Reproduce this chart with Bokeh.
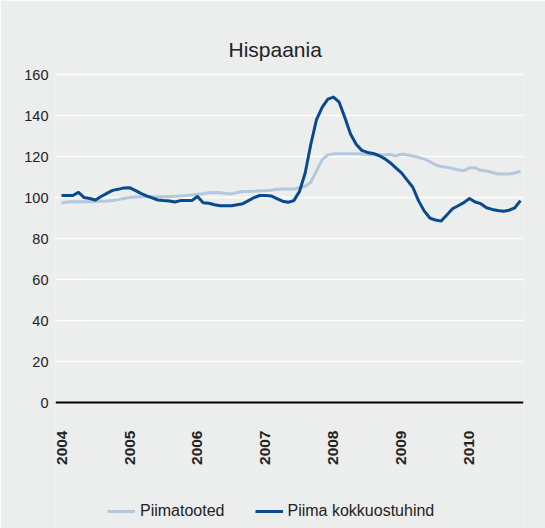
from bokeh.plotting import figure
from bokeh.models import Range1d, FixedTicker, Title, Legend
from bokeh.embed import file_html
from bokeh.resources import INLINE
from math import pi

chart_title = "Hispaania"
years = ["2004", "2005", "2006", "2007", "2008", "2009", "2010"]
year_start_index = [0, 12, 24, 36, 48, 60, 72]
y_ticks = [0, 20, 40, 60, 80, 100, 120, 140, 160]

series_names = ["Piimatooted", "Piima kokkuostuhind"]

# monthly values, Jan 2004 ...
piimatooted = [
    97.3, 97.8, 98.0, 98.0, 98.0, 98.0, 98.1, 98.2, 98.3, 98.6, 99.0, 99.5,
    100.0, 100.3, 100.4, 100.4, 100.4, 100.4, 100.4, 100.5, 100.6, 100.8, 101.0, 101.2,
    101.6, 101.9, 102.3, 102.5, 102.3, 102.0, 101.8, 102.5, 102.9, 103.0, 103.1, 103.3,
    103.4, 103.6, 104.0, 104.2, 104.2, 104.2, 104.8, 105.5, 107.5, 113.0, 118.5, 120.8,
    121.3, 121.3, 121.3, 121.3, 121.3, 121.2, 121.0, 120.8, 120.8, 120.8, 121.0, 120.3,
    121.2, 120.8, 120.3, 119.6, 118.8, 117.5, 116.0, 115.1, 114.8, 114.2, 113.5, 113.1,
    114.5, 114.5, 113.3, 113.0, 112.2, 111.5, 111.5, 111.5, 112.0, 112.8,
]
kokkuostuhind = [
    101.0, 101.0, 101.0, 102.5, 100.0, 99.5, 98.8, 100.5, 102.0, 103.5, 104.0, 104.7,
    104.8, 103.5, 102.0, 100.8, 99.8, 98.8, 98.5, 98.3, 97.8, 98.5, 98.5, 98.5,
    100.5, 97.5, 97.2, 96.5, 96.0, 96.0, 96.0, 96.5, 97.0, 98.5, 100.0, 101.0,
    101.0, 100.8, 99.5, 98.2, 97.7, 98.5, 103.0, 112.0, 126.0, 138.0, 144.0, 148.0,
    149.0, 146.5, 139.0, 131.0, 126.0, 123.0, 122.0, 121.5, 120.5, 119.0, 117.0, 114.5,
    112.0, 108.5, 105.0, 98.5, 93.5, 90.0, 89.0, 88.5, 91.5, 94.5, 96.0, 97.5,
    99.5, 97.8, 97.0, 95.0, 94.2, 93.7, 93.3, 93.8, 95.0, 98.5,
]
months = list(range(len(kokkuostuhind)))

BG = "#ECEDED"
LIGHT = "#B3C7DD"
DARK = "#094A8C"
FONT = "Liberation Sans"
TXT = "#222222"

# the frame runs down to the bottom edge so that the legend can sit inside it;
# the x axis is pinned at y = 0
p = figure(
    width=545, height=528,
    output_backend="svg", toolbar_location=None,
    x_range=Range1d(-1.06, 81.53), y_range=Range1d(-61.47, 161),
    min_border_left=55, min_border_right=22, min_border_top=72, min_border_bottom=0,
    background_fill_color=BG, border_fill_color=BG, outline_line_color=None,
)

r_light = p.line(months, piimatooted, line_color=LIGHT, line_width=3, line_join="round")
r_dark = p.line(months, kokkuostuhind, line_color=DARK, line_width=3, line_join="round")

# y axis
p.yaxis.ticker = FixedTicker(ticks=y_ticks)
p.yaxis.axis_line_color = None
p.yaxis.major_tick_line_color = None
p.yaxis.minor_tick_line_color = None
p.yaxis.major_label_text_font = FONT
p.yaxis.major_label_text_font_size = "14.5px"
p.yaxis.major_label_text_color = TXT
p.yaxis.major_label_standoff = 1

# x axis (pinned at zero)
p.xaxis.fixed_location = 0
p.xaxis.ticker = FixedTicker(ticks=year_start_index)
p.xaxis.major_label_overrides = {i: y for i, y in zip(year_start_index, years)}
p.xaxis.major_label_orientation = pi / 2
p.xaxis.axis_line_color = "black"
p.xaxis.axis_line_width = 2
p.xaxis.major_tick_line_color = None
p.xaxis.minor_tick_line_color = None
p.xaxis.major_label_text_font = FONT
p.xaxis.major_label_text_font_style = "bold"
p.xaxis.major_label_text_font_size = "15.5px"
p.xaxis.major_label_text_color = TXT
p.xaxis.major_label_standoff = 22

p.xgrid.visible = False
p.ygrid.ticker = FixedTicker(ticks=y_ticks)
p.ygrid.grid_line_color = "white"
p.ygrid.grid_line_width = 1.5

# title
p.add_layout(Title(text=chart_title, align="left", offset=173, standoff=24,
                   text_font=FONT, text_font_size="21px", text_font_style="normal",
                   text_color=TXT), "above")

# legend
lg = Legend(items=[(series_names[0], [r_light]), (series_names[1], [r_dark])],
            orientation="horizontal", location=(52, 7),
            background_fill_alpha=0, border_line_color=None,
            padding=0, margin=0, spacing=30,
            glyph_width=28, glyph_height=20, label_standoff=5,
            label_text_font=FONT, label_text_font_size="16px", label_text_color=TXT)
p.add_layout(lg, "center")

open("out.html", "w").write(file_html(p, INLINE))
